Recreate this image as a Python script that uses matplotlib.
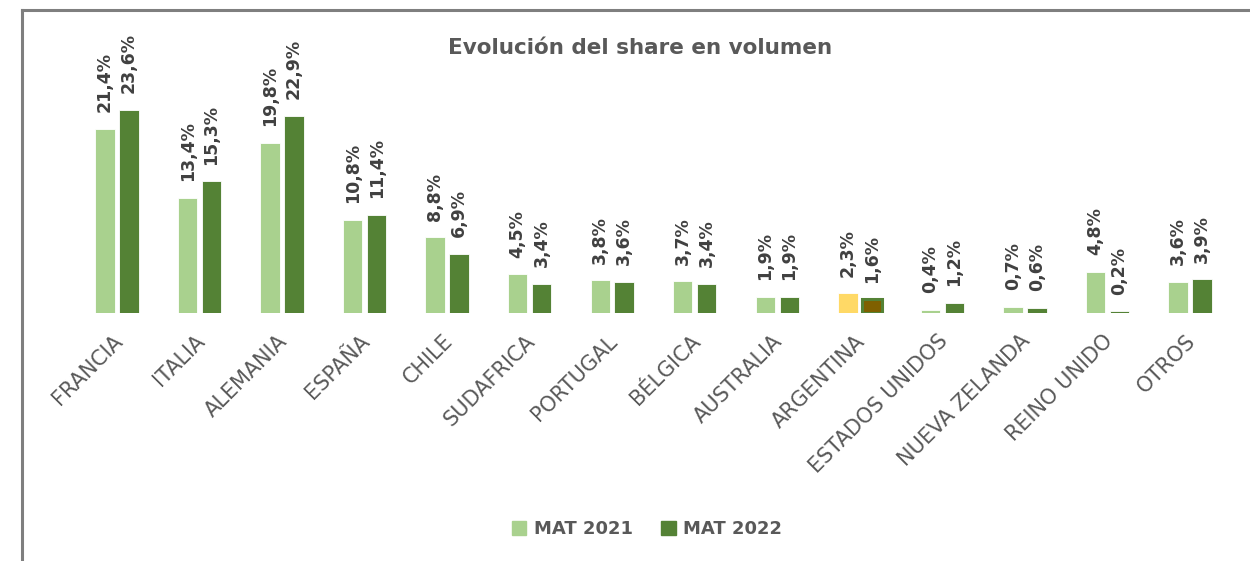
import numpy as np
import matplotlib.pyplot as plt
from matplotlib.lines import Line2D
from matplotlib.patches import Patch
from matplotlib.transforms import ScaledTranslation

paises = ['FRANCIA', 'ITALIA', 'ALEMANIA', 'ESPAÑA', 'CHILE', 'SUDAFRICA', 'PORTUGAL',
          'BÉLGICA', 'AUSTRALIA', 'ARGENTINA', 'ESTADOS UNIDOS', 'NUEVA ZELANDA',
          'REINO UNIDO', 'OTROS']
mat_2021 = [21.4, 13.4, 19.8, 10.8, 8.8, 4.5, 3.8, 3.7, 1.9, 2.3, 0.4, 0.7, 4.8, 3.6]
mat_2022 = [23.6, 15.3, 22.9, 11.4, 6.9, 3.4, 3.6, 3.4, 1.9, 1.6, 1.2, 0.6, 0.2, 3.9]
destacado = 'ARGENTINA'

verde_claro = '#A9D18E'
verde_oscuro = '#548235'
amarillo = '#FFD966'
marron = '#7F6000'
gris_texto = '#595959'
gris_etiqueta = '#404040'

fig = plt.figure(figsize=(12.5, 5.61), dpi=100)
ax = fig.add_axes([0, 0.442, 1, 0.558])

x = np.arange(len(paises))
ancho = 0.235
off = 0.145

col_21 = [amarillo if p == destacado else verde_claro for p in paises]
col_22 = [marron if p == destacado else verde_oscuro for p in paises]
b1 = ax.bar(x - off, mat_2021, ancho, color=col_21, edgecolor='white', linewidth=0.6)
b2 = ax.bar(x + off, mat_2022, ancho, color=col_22, edgecolor='white', linewidth=0.6)
# la barra destacada de 2022 lleva borde verde
i = paises.index(destacado)
b2[i].set_edgecolor(verde_oscuro)
b2[i].set_linewidth(2.2)

for barras, vals in ((b1, mat_2021), (b2, mat_2022)):
    etiquetas = ax.bar_label(barras, labels=[f'{v:.1f}%'.replace('.', ',') for v in vals],
                             rotation=90, padding=12, fontsize=12.5, fontweight='bold',
                             color=gris_etiqueta)
    for t in etiquetas:
        t.set_transform(t.get_transform() + ScaledTranslation(2 / 100, 0, fig.dpi_scale_trans))

ax.set_xlim(-1.4175, 13.727)
ax.set_ylim(0, 36.4)
ax.set_xticks(x)
ax.set_xticklabels(paises, rotation=45, ha='right', rotation_mode='anchor',
                   fontsize=15, color=gris_texto)
ax.tick_params(axis='x', length=0, pad=13)
for t in ax.get_xticklabels():
    t.set_transform(t.get_transform() + ScaledTranslation(-5 / 100, 0, fig.dpi_scale_trans))
ax.set_yticks([])
for s in ax.spines.values():
    s.set_visible(False)

fig.text(0.512, 1 - 48 / 561, 'Evolución del share en volumen', ha='center', va='center',
         fontsize=15.5, fontweight='bold', color=gris_texto)

handles = [Patch(color=verde_claro, label='MAT 2021'),
           Patch(color=verde_oscuro, label='MAT 2022')]
leg = fig.legend(handles=handles, loc='center', bbox_to_anchor=(647 / 1250, 1 - 529 / 561),
                 ncol=2, frameon=False, handlelength=0.8, handleheight=0.8,
                 handletextpad=0.4, columnspacing=1.6, fontsize=13)
for t in leg.get_texts():
    t.set_color(gris_texto)
    t.set_fontweight('bold')

# marco gris (lado izquierdo y superior)
fig.add_artist(Line2D([21.5 / 1250, 21.5 / 1250], [0, 1 - 10 / 561], color='#7F7F7F',
                      linewidth=2.2, transform=fig.transFigure))
fig.add_artist(Line2D([21.5 / 1250, 1], [1 - 10 / 561, 1 - 10 / 561], color='#7F7F7F',
                      linewidth=2.2, transform=fig.transFigure))

fig.savefig('out.png', dpi=100)
